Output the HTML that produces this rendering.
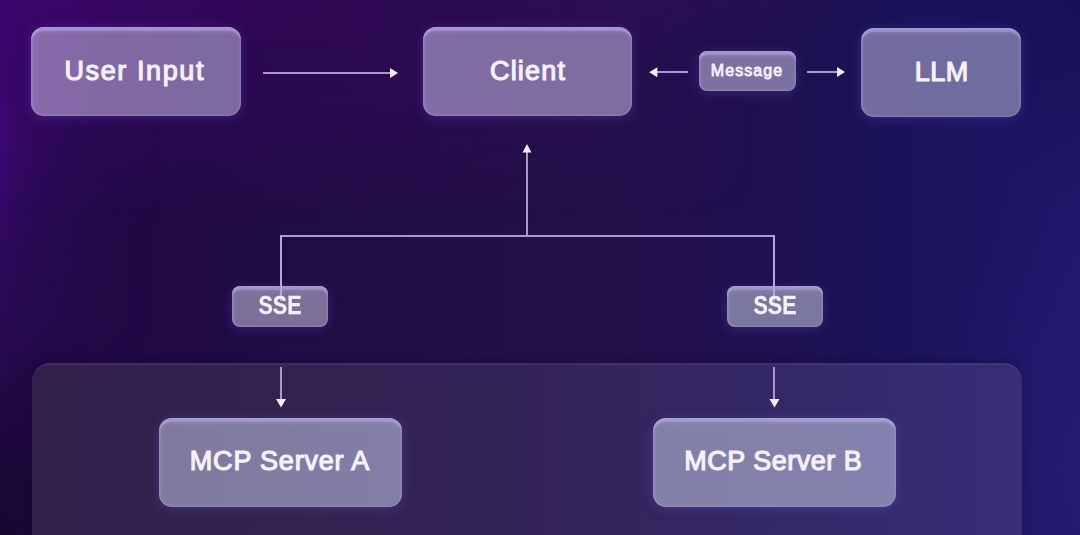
<!DOCTYPE html>
<html><head><meta charset="utf-8"><style>
*{margin:0;padding:0;box-sizing:border-box}
html,body{width:1080px;height:535px;overflow:hidden}
body{position:relative;font-family:"Liberation Sans",sans-serif;background:#210e46;}
.bg{position:absolute;left:0;top:0;width:1080px;height:535px;
background:
 radial-gradient(ellipse 260px 70px at 40px 0px, rgba(68,8,124,0.8), rgba(68,8,124,0) 100%),
 radial-gradient(ellipse 260px 60px at 640px 0px, rgba(52,16,90,0.35), rgba(52,16,90,0) 100%),
 radial-gradient(ellipse 180px 200px at 1080px 0px, rgba(18,14,80,0.7), rgba(18,14,80,0) 100%),
 radial-gradient(ellipse 160px 300px at 1080px 470px, rgba(40,32,120,0.5), rgba(40,32,120,0) 100%),
 radial-gradient(ellipse 180px 220px at 0px 535px, rgba(22,6,44,0.85), rgba(22,6,44,0) 100%),
 linear-gradient(90deg,#250a4c 0%,#210946 8%,#200a45 20%,#210d46 35%,#23104a 55%,#201050 70%,#1a1256 80%,#1c1562 92%,#1f1868 100%);}
.lglow{position:absolute;left:0;top:0;width:160px;height:535px;
background:linear-gradient(90deg,rgba(66,8,130,0.9) 0px,rgba(66,8,130,0.5) 18px,rgba(66,8,130,0.22) 55px,rgba(66,8,130,0.08) 100px,rgba(66,8,130,0) 160px);
-webkit-mask-image:linear-gradient(to bottom,#000 0px,#000 140px,rgba(0,0,0,0.35) 250px,rgba(0,0,0,0.12) 350px,rgba(0,0,0,0) 450px);}
.tglow{position:absolute;left:0;top:0;width:1080px;height:230px;
background:linear-gradient(to bottom,rgba(56,6,96,0.55) 0px,rgba(56,6,96,0.5) 70px,rgba(56,6,96,0.25) 140px,rgba(56,6,96,0) 220px);
-webkit-mask-image:linear-gradient(to right,#000 0px,#000 380px,rgba(0,0,0,0.5) 560px,rgba(0,0,0,0) 760px);}
.panel{position:absolute;left:32px;top:363px;width:990px;height:200px;border-radius:18px;box-shadow:inset 0 3px 2px -1px rgba(120,80,170,0.25), 0 -3px 4px rgba(20,5,45,0.3);
background:linear-gradient(90deg,#31204a 0%,#32224f 25%,#33245a 55%,#342868 78%,#372e78 100%);}
.box{position:absolute;border-radius:13px;display:flex;align-items:center;justify-content:center;
color:#f6f0fd;font-weight:normal;-webkit-text-stroke:1.15px #f6f0fd;
box-shadow:inset 0 5px 1px -1px rgba(200,185,250,0.36), inset 0 9px 5px -4px rgba(200,185,250,0.2), inset 4px 0 4px -2px rgba(200,185,250,0.16), inset 0 0 0 1.5px rgba(190,180,250,0.2), 0 2px 12px rgba(120,100,220,0.28);}
.box span{display:inline-block;position:relative;z-index:5}
.sse span{transform:scaleX(0.86);margin-top:-3px;font-weight:bold;-webkit-text-stroke:0.3px #f6f0fd}
.line{position:absolute;background:#a898d4}
</style></head><body>
<div class="bg"></div>
<div class="lglow"></div>
<div class="tglow"></div>
<div class="panel"></div>

<!-- lines -->
<div class="line" style="left:263px;top:72px;width:128px;height:2.4px"></div>
<div class="line" style="left:656px;top:71px;width:32px;height:2px"></div>
<div class="line" style="left:807px;top:71px;width:31px;height:2px"></div>
<div class="line" style="left:526px;top:150px;width:2px;height:87px"></div>
<div class="line" style="left:280px;top:235px;width:495px;height:2px"></div>
<div class="line" style="left:280px;top:235px;width:2px;height:66px;z-index:3;background:#b4a8e4"></div>
<div class="line" style="left:773px;top:235px;width:2px;height:66px;z-index:3;background:#b4a8e4"></div>
<div class="line" style="left:280px;top:367px;width:2px;height:34px"></div>
<div class="line" style="left:773px;top:367px;width:2px;height:34px"></div>

<!-- arrowheads -->
<svg style="position:absolute;left:0;top:0;z-index:4" width="1080" height="535">
 <g fill="#f4ecfc">
  <polygon points="398,73 390,68 390,78"/>
  <polygon points="649.2,72.3 657.4,67.3 657.4,77.3"/>
  <polygon points="845,72 837,67 837,77"/>
  <polygon points="527,144 522.5,152.5 531.5,152.5"/>
  <polygon points="281,407.5 276,399 286,399"/>
  <polygon points="774.5,407.5 769.5,399 779.5,399"/>
 </g>
</svg>

<div class="box" style="left:31px;top:27px;width:210px;height:89px;font-size:27px;background:linear-gradient(90deg,#8a6aae 0%,#8268a5 30%,#7e6aa0 100%)"><span style="letter-spacing:1.6px;padding-left:1.6px;left:-2px">User Input</span></div>
<div class="box" style="left:423px;top:27px;width:209px;height:89px;font-size:27px;background:linear-gradient(90deg,#836ca6 0%,#7f6ca0 40%,#7f6ca0 100%)"><span style="letter-spacing:1.2px;padding-left:1.2px">Client</span></div>
<div class="box" style="left:699px;top:51px;width:97px;height:40px;font-size:16px;border-radius:8px;background:#7c72a2"><span style="letter-spacing:1.1px;padding-left:1.1px;left:-1px;top:-0.5px;-webkit-text-stroke:0.8px #f6f0fd">Message</span></div>
<div class="box" style="left:861px;top:28px;width:160px;height:89px;font-size:27px;background:linear-gradient(90deg,#736ca0 0%,#6f6ca0 100%)"><span style="letter-spacing:0.6px;padding-left:0.6px;top:-0.5px;left:0.5px">LLM</span></div>
<div class="box sse" style="left:232px;top:286px;width:96px;height:41px;font-size:25px;border-radius:8px;background:#7c7099"><span>SSE</span></div>
<div class="box sse" style="left:727px;top:286px;width:96px;height:41px;font-size:25px;border-radius:8px;background:#7a789e"><span>SSE</span></div>
<div class="box" style="left:159px;top:418px;width:243px;height:89px;font-size:27px;background:linear-gradient(90deg,#807a9e 0%,#827ea6 100%)"><span style="letter-spacing:0.8px;padding-left:0.8px;left:-1px;top:-1px">MCP Server A</span></div>
<div class="box" style="left:653px;top:418px;width:243px;height:89px;font-size:27px;background:linear-gradient(90deg,#8280a8 0%,#8482ae 100%)"><span style="letter-spacing:0.5px;padding-left:0.5px;left:-1.5px;top:-1px">MCP Server B</span></div>
</body></html>
